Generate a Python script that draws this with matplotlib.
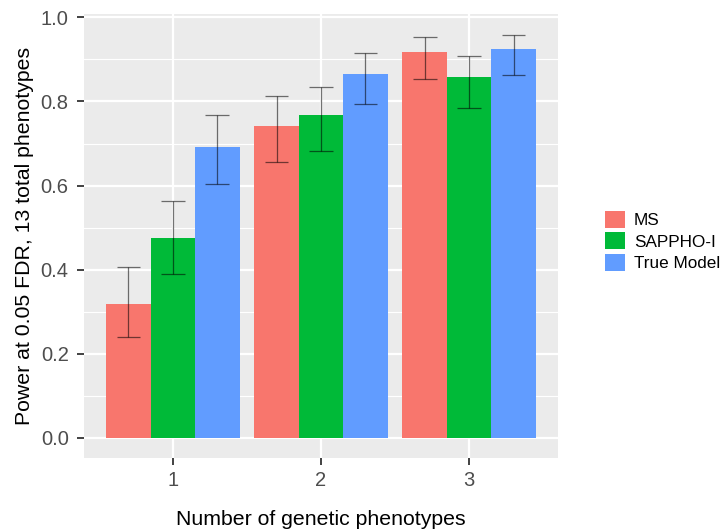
import matplotlib
matplotlib.use("Agg")
import matplotlib.pyplot as plt
from matplotlib.patches import Patch
import numpy as np

plt.rcParams['font.family'] = ['Liberation Sans', 'DejaVu Sans']

groups = [1, 2, 3]
methods = ["MS", "SAPPHO-I", "True Model"]
colors = ["#F8766D", "#00BA38", "#619CFF"]

power_ms = [0.318, 0.741, 0.917]
power_sappho = [0.475, 0.767, 0.857]
power_true = [0.691, 0.865, 0.925]

lo_ms = [0.240, 0.656, 0.853]
hi_ms = [0.406, 0.812, 0.953]
lo_sappho = [0.389, 0.682, 0.784]
hi_sappho = [0.563, 0.834, 0.909]
lo_true = [0.603, 0.793, 0.863]
hi_true = [0.767, 0.915, 0.959]

values = [power_ms, power_sappho, power_true]
lows = [lo_ms, lo_sappho, lo_true]
highs = [hi_ms, hi_sappho, hi_true]

fig = plt.figure(figsize=(7.2, 5.31), dpi=100)
ax = fig.add_axes([84/720, 1-458/531, (558-84)/720, (458-14)/531])
ax.set_facecolor("#EBEBEB")

bw = 0.3
x = np.array(groups, dtype=float)
for i, (vals, lo, hi, c) in enumerate(zip(values, lows, highs, colors)):
    xp = x + (i - 1) * bw
    ax.bar(xp, vals, width=bw, color=c, edgecolor='none', zorder=3, label=methods[i])
    ax.vlines(xp, lo, hi, color='black', alpha=0.55, lw=0.9, zorder=4)
    ax.hlines(lo, xp - 0.08, xp + 0.08, color='black', alpha=0.55, lw=0.9, zorder=4)
    ax.hlines(hi, xp - 0.08, xp + 0.08, color='black', alpha=0.55, lw=0.9, zorder=4)

ax.set_xlim(0.4, 3.6)
ax.set_ylim(-0.048, 1.008)
ax.set_yticks([0.0, 0.2, 0.4, 0.6, 0.8, 1.0])
ax.set_yticklabels(["0.0", "0.2", "0.4", "0.6", "0.8", "1.0"])
ax.set_yticks([0.1, 0.3, 0.5, 0.7, 0.9], minor=True)
ax.set_xticks(groups)
ax.set_xticklabels([str(g) for g in groups])

ax.grid(which='major', color='white', lw=1.6, zorder=0)
ax.grid(which='minor', axis='y', color='white', lw=0.8, zorder=0)
ax.set_axisbelow(True)
for s in ax.spines.values():
    s.set_visible(False)

ax.tick_params(axis='both', which='major', length=5, width=1.3, color='#333333',
               labelsize=14.5, labelcolor='#4D4D4D')
ax.tick_params(axis='y', which='major', pad=6)
ax.tick_params(axis='x', which='major', pad=4)
ax.tick_params(axis='y', which='minor', length=0)

ax.set_xlabel("Number of genetic phenotypes", fontsize=15.3, color='black', labelpad=15)
ax.set_ylabel("Power at 0.05 FDR, 13 total phenotypes", fontsize=15.3, color='black', labelpad=5)

handles = [Patch(facecolor=c, edgecolor='none') for c in colors]
fig.legend(handles, methods, loc='center left', bbox_to_anchor=(605/720, 1-241/531),
           frameon=False, fontsize=12.3, handlelength=1.15, handleheight=1.15,
           labelspacing=0.25, handletextpad=0.55, borderpad=0, borderaxespad=0)

fig.savefig("out.png", dpi=100)
